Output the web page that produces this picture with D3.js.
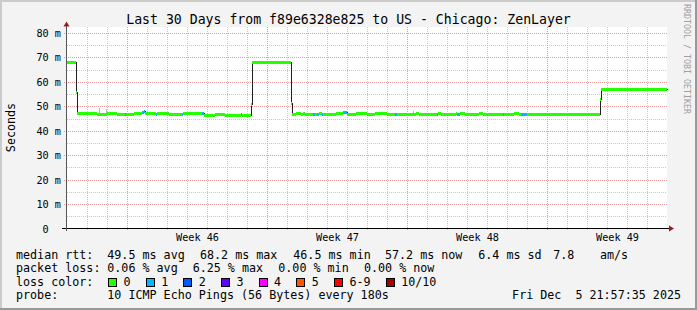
<!DOCTYPE html>
<html>
<head>
<meta charset="utf-8">
<script src="https://cdn.jsdelivr.net/npm/d3@7"></script>
<style>
  body { margin: 0; background: #f3f3f3; }
  svg { display: block; }
  text { font-family: "DejaVu Sans Mono", monospace; white-space: pre; fill: #000; }
</style>
</head>
<body>
<div id="chart"></div>
<script>
// ---- data ----
const title = 'Last 30 Days from f89e6328e825 to US - Chicago: ZenLayer';
const yLabel = 'Seconds';
const yTicks = [0, 10, 20, 30, 40, 50, 60, 70, 80];
const weekLabels = ['Week 46', 'Week 47', 'Week 48', 'Week 49'];
const weekStarts = [3, 10, 17, 24];   // day offsets of the week grid lines
const totalDays = 30;

// median rtt (ms) as step runs: start day, value, loss class
const runStart = [0, 0.45, 0.5, 1.5, 2.0, 2.5, 2.9, 2.95, 3.35, 3.75, 3.85, 3.9, 4.45, 4.5, 5.1, 5.75, 5.8,
  6.75, 6.85, 7.4, 7.9, 8.7, 8.75, 9.2, 9.25, 11.2, 11.25, 11.45, 11.7, 11.8, 11.9, 12.3, 12.4, 12.5, 12.6,
  12.75, 12.8, 13.45, 13.8, 14.0, 14.45, 15.0, 15.4, 16.0, 16.4, 16.5, 17.45, 17.6, 18.5, 18.55, 18.7,
  19.45, 19.5, 19.65, 19.9, 20.6, 20.8, 21.8, 21.85, 22.35, 22.6, 22.7, 23.0, 26.65, 26.7];
const runValue = [68.2, 55.8, 47.3, 46.9, 47.3, 46.9, 47.0, 46.9, 47.3, 47.5, 47.9, 47.3, 47.0, 47.3, 46.9, 47.0, 47.3,
  47.3, 46.6, 47.0, 46.6, 46.9, 46.6, 50.9, 68.2, 51.3, 46.7, 47.2, 46.7, 47.2, 46.7, 46.9, 46.7, 47.0, 47.2,
  47.0, 46.7, 47.2, 47.7, 46.7, 47.2, 46.7, 47.2, 46.7, 46.9, 46.7, 47.2, 46.7, 46.9, 47.2, 46.7,
  47.2, 47.0, 47.2, 46.7, 47.2, 46.7, 46.9, 46.7, 47.2, 46.7, 47.0, 46.7, 52.8, 57.2];
const runLoss = [0, 0, 0, 0, 0, 0, 1, 0, 0, 1, 1, 0, 1, 0, 0, 1, 0,
  1, 0, 0, 0, 1, 0, 0, 0, 0, 0, 0, 0, 0, 0, 1, 0, 1, 0,
  1, 0, 0, 1, 0, 0, 0, 0, 0, 1, 0, 0, 0, 1, 0, 0,
  0, 1, 0, 0, 0, 0, 1, 0, 0, 0, 1, 0, 0, 0];

// smoke spikes above the median
const smokeDay = [1.6, 1.95, 17.3];
const smokeTop = [49.3, 48.9, 48.0];

const lossLabels = ['0', '1', '2', '3', '4', '5', '6-9', '10/10'];
const lossColors = ['#26ff00', '#00b8ff', '#0059ff', '#5e00ff', '#ff00ff', '#ff5500', '#ff0000', '#a10000'];

const rttStats = ['median rtt:', '49.5 ms avg', '68.2 ms max', '46.5 ms min', '57.2 ms now', '6.4 ms sd', '7.8', 'am/s'];
const lossStats = ['packet loss:', '0.06 % avg', '6.25 % max', '0.00 % min', '0.00 % now'];
const probeText = ['probe:', '10 ICMP Echo Pings (56 Bytes) every 180s'];
const stamp = 'Fri Dec  5 21:57:35 2025';
const watermark = 'RRDTOOL / TOBI OETIKER';

// ---- drawing ----
const W = 697, H = 310;
const svg = d3.select('#chart').append('svg').attr('width', W).attr('height', H);

// background + 3d frame
svg.append('rect').attr('width', W).attr('height', H).attr('fill', '#f3f3f3');
svg.append('path').attr('d', `M0,0H${W}V2H2V${H}H0Z`).attr('fill', '#cbcbcb');
svg.append('path').attr('d', `M${W},${H}H0V${H - 2}H${W - 2}V0H${W}Z`).attr('fill', '#999');

const x = d3.scaleLinear().domain([0, totalDays]).range([67, 667]);
const y = d3.scaleLinear().domain([0, 80]).range([228.5, 33]);
const px = v => Math.round(x(v));
const py = v => Math.round(y(v));

// canvas
svg.append('rect').attr('x', 67).attr('y', 27).attr('width', 600).attr('height', 201.5).attr('fill', '#fff');

const grid = svg.append('g').attr('shape-rendering', 'crispEdges').attr('stroke-dasharray', '1,1');
const minorY = d3.range(5, 80, 10);
grid.selectAll('.hmin').data(minorY).enter().append('line')
  .attr('x1', 67).attr('x2', 667)
  .attr('y1', d => py(d) + 0.5).attr('y2', d => py(d) + 0.5)
  .attr('stroke', '#c8c8c8');
grid.selectAll('.hmaj').data(yTicks.filter(d => d > 0)).enter().append('line')
  .attr('x1', 64).attr('x2', 667)
  .attr('y1', d => py(d) + 0.5).attr('y2', d => py(d) + 0.5)
  .attr('stroke', '#e79a9a');
const dayLines = x.ticks(totalDays).filter(d => d > 0 && d < totalDays && !weekStarts.includes(d));
grid.selectAll('.vmin').data(dayLines).enter().append('line')
  .attr('x1', d => px(d) + 0.5).attr('x2', d => px(d) + 0.5)
  .attr('y1', 27).attr('y2', 231)
  .attr('stroke', '#c8c8c8');
grid.selectAll('.vmaj').data(weekStarts).enter().append('line')
  .attr('x1', d => px(d) + 0.5).attr('x2', d => px(d) + 0.5)
  .attr('y1', 27).attr('y2', 231)
  .attr('stroke', '#e79a9a');

// data
const runs = runStart.map((s, i) => ({
  s: s,
  e: i < runStart.length - 1 ? runStart[i + 1] : totalDays,
  v: runValue[i],
  loss: runLoss[i]
}));

const plot = svg.append('g').attr('shape-rendering', 'crispEdges');

plot.selectAll('.smoke').data(smokeDay).enter().append('rect')
  .attr('x', d => px(d)).attr('width', 1)
  .attr('y', (d, i) => py(smokeTop[i]))
  .attr('height', (d, i) => py(47) - py(smokeTop[i]))
  .attr('fill', '#b8b8b8');

const pts = runs.map(r => [r.s, r.v]).concat([[totalDays, runs[runs.length - 1].v]]);
plot.append('path')
  .attr('d', d3.line().x(d => px(d[0]) + 0.5).y(d => py(d[1]) + 0.5).curve(d3.curveStepAfter)(pts))
  .attr('fill', 'none').attr('stroke', '#202020').attr('stroke-width', 1);

plot.selectAll('.run').data(runs).enter().append('line')
  .attr('x1', d => px(d.s)).attr('x2', d => px(d.e))
  .attr('y1', d => py(d.v) + 0.5).attr('y2', d => py(d.v) + 0.5)
  .attr('stroke', d => lossColors[d.loss]).attr('stroke-width', 3);

// axes lines and arrows
svg.append('line').attr('x1', 62).attr('x2', 669).attr('y1', 228.5).attr('y2', 228.5)
  .attr('stroke', '#000').attr('shape-rendering', 'crispEdges');
svg.append('line').attr('x1', 66.5).attr('x2', 66.5).attr('y1', 231).attr('y2', 26)
  .attr('stroke', '#555').attr('shape-rendering', 'crispEdges');
svg.append('path').attr('d', 'M669,225.5L674,228.5L669,231.5Z').attr('fill', '#9b1c1c');
svg.append('path').attr('d', 'M63.5,26.5L66.5,21.5L69.5,26.5Z').attr('fill', '#9b1c1c');

// y axis labels
const yAxis = svg.append('g').attr('transform', 'translate(61,0)')
  .call(d3.axisLeft(y).tickValues(yTicks).tickSize(0).tickPadding(0)
    .tickFormat(d => d === 0 ? '0  ' : d + ' m'));
yAxis.select('.domain').remove();
yAxis.attr('font-family', '"DejaVu Sans Mono", monospace').attr('font-size', '10.2px');
yAxis.selectAll('text').attr('y', d => py(d) - y(d) + 0.5);

// week labels
const xAxis = svg.append('g').attr('transform', 'translate(0,233.5)')
  .call(d3.axisBottom(x).tickValues(weekStarts.map(d => d + 3.5)).tickSize(0).tickPadding(0)
    .tickFormat((d, i) => weekLabels[i]));
xAxis.select('.domain').remove();
xAxis.attr('font-family', '"DejaVu Sans Mono", monospace').attr('font-size', '10.2px');

// title, unit label, watermark
svg.append('text').attr('x', 348.5).attr('y', 23.5).attr('text-anchor', 'middle')
  .attr('font-size', '13.2px').text(title);
svg.append('text').attr('transform', 'translate(15,127.5) rotate(-90)').attr('text-anchor', 'middle')
  .attr('font-size', '11.7px').text(yLabel);
svg.append('text').attr('transform', 'translate(684,4) rotate(90)')
  .attr('font-size', '8.3px').style('fill', '#a0a0a0').text(watermark);

// legend
const lg = svg.append('g').attr('font-size', '11.7px');
const rttX = [16, 107.3, 200, 293.3, 385, 478.3, 553.3, 600];
const lossX = [16, 107.3, 192.7, 278.3, 364];
lg.selectAll('.rtt').data(rttStats).enter().append('text')
  .attr('x', (d, i) => rttX[i]).attr('y', 258.5).text(d => d);
lg.selectAll('.pl').data(lossStats).enter().append('text')
  .attr('x', (d, i) => lossX[i]).attr('y', 272).text(d => d);
lg.append('text').attr('x', 16).attr('y', 285.5).text('loss color:');

const charW = 7.05;
let bx = 108.5;
lossLabels.forEach((lab, i) => {
  lg.append('rect').attr('x', bx).attr('y', 278.5).attr('width', 8).attr('height', 8)
    .attr('fill', lossColors[i]).attr('stroke', '#000').attr('shape-rendering', 'crispEdges');
  lg.append('text').attr('x', bx + 15).attr('y', 285.5).text(lab);
  bx = bx + 15 + lab.length * charW + 15.6;
});

lg.append('text').attr('x', 16).attr('y', 299).text(probeText[0]);
lg.append('text').attr('x', 107.3).attr('y', 299).text(probeText[1]);
lg.append('text').attr('x', 681).attr('y', 299).attr('text-anchor', 'end').text(stamp);
</script>
</body>
</html>
